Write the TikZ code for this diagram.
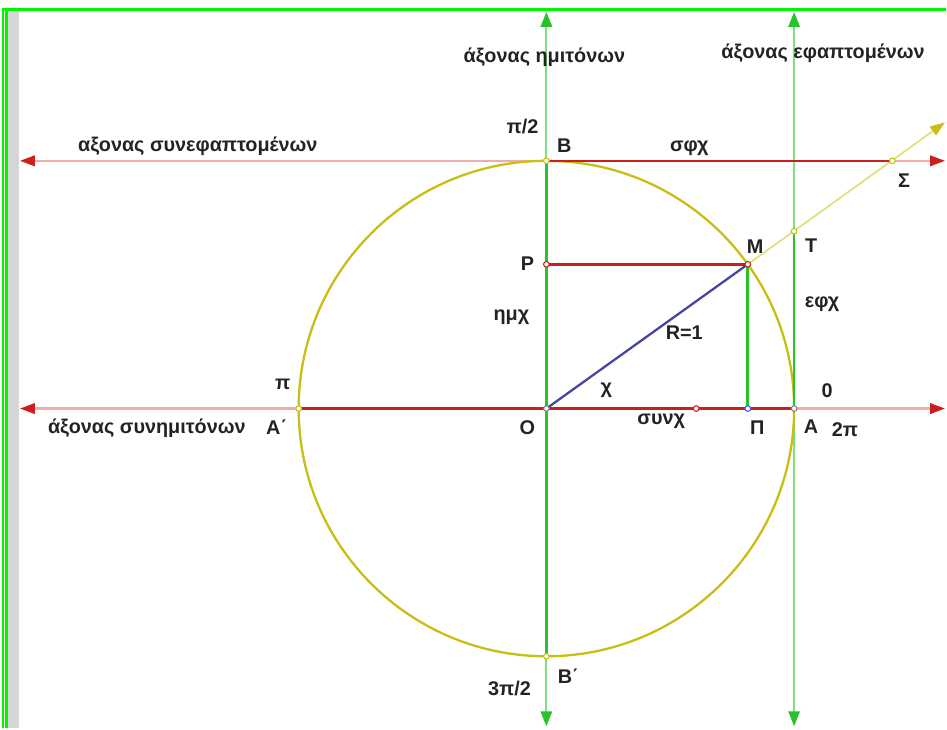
\documentclass[tikz,border=0pt]{standalone}
\usepackage{fontspec}
\setmainfont{Liberation Sans}
\usetikzlibrary{arrows.meta}
\definecolor{framegreen}{RGB}{0,245,0}
\definecolor{stripgray}{RGB}{214,214,214}
\definecolor{axgreen}{RGB}{125,225,125}
\definecolor{seggreen}{RGB}{40,195,40}
\definecolor{axred}{RGB}{240,172,172}
\definecolor{segred}{RGB}{205,30,30}
\definecolor{circyellow}{RGB}{200,190,20}
\definecolor{rayyellow}{RGB}{225,222,110}
\definecolor{radblue}{RGB}{70,70,160}
\definecolor{lblgray}{RGB}{35,35,35}

\begin{document}
\begin{tikzpicture}[
      x=0.02cm, y=-0.02cm,
      every node/.style={font=\bfseries\fontsize{11.3}{13}\selectfont, text=lblgray, inner sep=0pt},
      haxis/.style={draw=axred, line width=1.2pt,
                    {Triangle[length=8.5pt,width=6pt,color=segred]}-{Triangle[length=8.5pt,width=6pt,color=segred]}},
      vaxis/.style={draw=axgreen, line width=1.1pt,
                    {Triangle[length=8.5pt,width=6.5pt,color=seggreen]}-{Triangle[length=8.5pt,width=6.5pt,color=seggreen]}},
      redseg/.style={draw=segred, line width=1.5pt},
      greenseg/.style={draw=seggreen, line width=1.5pt},
      pt/.style={line width=0.6pt, fill=white},
    ]
    % frame
    \fill[stripgray] (8,11) rectangle (19,729);
    \draw[framegreen, line width=1.2pt] (2,9.5) -- (947,9.5);
    \draw[framegreen, line width=1.2pt] (3,9.5) -- (3,729);
    \draw[framegreen, line width=1.2pt] (6.5,9.5) -- (6.5,729);

    % points
    \coordinate (O)  at (547,409);
    \coordinate (A)  at (795,409);
    \coordinate (A1) at (299,409);
    \coordinate (B)  at (547,161);
    \coordinate (B1) at (547,657);
    \coordinate (M)  at (748.6,264.6);
    \coordinate (P)  at (547,264.6);
    \coordinate (Pi) at (748.6,409);
    \coordinate (T)  at (795,231.5);
    \coordinate (S)  at (893.4,161);
    \coordinate (C)  at (697,409);
    % axis ends
    \coordinate (cosL) at (20,409);
    \coordinate (cosR) at (946,409);
    \coordinate (cotL) at (20,161);
    \coordinate (cotR) at (946,161);
    \coordinate (sinU) at (547,12);
    \coordinate (sinD) at (547,727);
    \coordinate (tanU) at (795,12);
    \coordinate (tanD) at (795,727);
    \coordinate (rayE) at (946,122.5);

    % axes
    \draw[haxis] (cosL) -- (cosR);
    \draw[haxis] (cotL) -- (cotR);
    \draw[vaxis] (sinU) -- (sinD);
    \draw[vaxis] (tanU) -- (tanD);
    \draw[rayyellow, line width=0.9pt, -{Triangle[length=8.5pt,width=6pt,color=circyellow]}] (M) -- (rayE);

    \draw[circyellow, line width=1.3pt] (O) circle [radius=248];

    % segments
    \draw[redseg] (A1) -- (A);
    \draw[redseg] (B) -- (S);
    \draw[redseg] (P) -- (M);
    \draw[greenseg] (B) -- (B1);
    \draw[greenseg] (A) -- (T);
    \draw[greenseg] (M) -- (Pi);
    \draw[radblue, line width=1.3pt] (O) -- (M);

    \draw[pt, draw=gray]       (O)  circle [radius=1.6pt];
    \draw[pt, draw=gray]       (A)  circle [radius=1.6pt];
    \draw[pt, draw=circyellow] (A1) circle [radius=1.6pt];
    \draw[pt, draw=circyellow] (B)  circle [radius=1.6pt];
    \draw[pt, draw=circyellow] (B1) circle [radius=1.6pt];
    \draw[pt, draw=circyellow] (T)  circle [radius=1.6pt];
    \draw[pt, draw=circyellow] (S)  circle [radius=1.6pt];
    \draw[pt, draw=segred]     (M)  circle [radius=1.6pt];
    \draw[pt, draw=segred]     (P)  circle [radius=1.6pt];
    \draw[pt, draw=segred]     (C)  circle [radius=1.6pt];
    \draw[pt, draw=blue!70]    (Pi) circle [radius=1.6pt];

    % labels
    \node (lsin)  at (545,57)  {άξονας ημιτόνων};
    \node (ltan)  at (824,53)  {άξονας εφαπτομένων};
    \node (lcot)  at (198,146) {αξονας συνεφαπτομένων};
    \node (lcos)  at (147,429) {άξονας συνημιτόνων};
    \node (lhalf) at (523,127) {π/2};
    \node (lB)    at (565,146) {Β};
    \node (lcotx) at (690,148) {σφχ};
    \node (lS)    at (905,181) {Σ};
    \node (lM)    at (756,247) {Μ};
    \node (lT)    at (812,246) {Τ};
    \node (lP)    at (528,264) {Ρ};
    \node (ltanx) at (823,305) {εφχ};
    \node (lsinx) at (512,318) {ημχ};
    \node (lR)    at (685,333) {R=1};
    \node (lpi)   at (283,385) {π};
    \node (lx)    at (607,391) {χ};
    \node (lzero) at (828,391) {0};
    \node (lA1)   at (277,428) {Α΄};
    \node (lO)    at (528,428) {Ο};
    \node (lcosx) at (662,422) {συνχ};
    \node (lPi)   at (758,428) {Π};
    \node (lA)    at (812,427) {Α};
    \node (ltwo)  at (846,430) {2π};
    \node (lB1)   at (569,677) {Β΄};
    \node (lthree) at (510,689) {3π/2};

    \useasboundingbox (0,0) rectangle (947,729);
  \end{tikzpicture}
\end{document}
